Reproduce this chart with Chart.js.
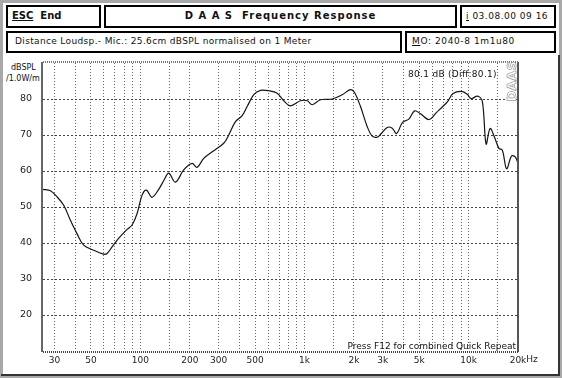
<!DOCTYPE html>
<html><head><meta charset="utf-8">
<script src="https://cdn.jsdelivr.net/npm/chart.js@4.4.1/dist/chart.umd.min.js"></script>
<style>
html,body{margin:0;padding:0;background:#fff;}
#page{position:relative;width:562px;height:378px;overflow:hidden;background:#fff;font-family:"DejaVu Sans",sans-serif;color:#111;}
.frame{position:absolute;left:0;top:0;width:562px;height:378px;box-sizing:border-box;border:3px solid #a8a8a8;}
.panel{position:absolute;left:1px;top:55px;width:559px;height:321px;box-sizing:border-box;border-right:2px solid #333;border-bottom:2px solid #333;}
.box{position:absolute;box-sizing:border-box;border:2px solid #000;background:#fff;}
.t{position:absolute;white-space:pre;line-height:1;}
.u{text-decoration:underline;}
canvas{position:absolute;left:0;top:0;}
.ov{z-index:2;}
</style></head><body><div id="page">
<div class="frame"></div>
<div class="panel"></div>
<div class="box" style="left:6px;top:5px;width:95px;height:23px;"></div>
<div class="box" style="left:104px;top:5px;width:353px;height:23px;"></div>
<div class="box" style="left:460px;top:5px;width:96px;height:23px;"></div>
<div class="box" style="left:6px;top:31px;width:396px;height:22px;"></div>
<div class="box" style="left:405px;top:31px;width:151px;height:22px;"></div>
<div class="t" style="left:12px;top:11px;font-size:10px;font-weight:bold;"><span class="u">ESC</span>  End</div>
<div class="t" style="left:104px;top:11px;width:353px;text-align:center;font-size:10px;font-weight:bold;letter-spacing:1px;">D A A S  Frequency Response</div>
<div class="t" style="left:466px;top:12px;font-size:9px;letter-spacing:0.5px;"><span class="u">i</span> 03.08.00 09 16</div>
<div class="t" style="left:15px;top:37px;font-size:9px;letter-spacing:0.35px;">Distance Loudsp.- Mic.: 25.6cm dBSPL normalised on 1 Meter</div>
<div class="t" style="left:412px;top:37px;font-size:9px;letter-spacing:0.6px;"><span class="u">M</span>O: 2040-8 1m1u80</div>
<div class="t" style="left:11px;top:64px;font-size:8px;">dBSPL</div>
<div class="t" style="left:6px;top:75px;font-size:8px;">/1.0W/m</div>
<canvas id="c" width="562" height="378"></canvas>
<div class="t ov" style="left:408px;top:70px;font-size:9px;letter-spacing:0.3px;">80.1 dB (Diff:80.1)</div>
<div class="t ov" style="left:491px;top:75px;width:40px;text-align:center;font-size:13px;font-weight:bold;color:#fff;-webkit-text-stroke:0.7px #999;transform:rotate(-90deg);transform-origin:50% 50%;">DAAS</div>
<div class="t ov" style="left:300px;top:342px;width:216px;text-align:right;font-size:9px;background:transparent;">Press F12 for combined Quick Repeat</div>
</div>
<script>
// measured curve: frequency (Hz) and level (dB SPL)
const freqHz = [25.5,28.3,31.1,34.1,37.4,41.1,45.1,51.9,59.7,62.7,67.2,73.7,83.0,89.0,95.5,102.4,108.8,117.8,129.3,138.7,148.8,163.5,183.7,206.7,221.6,243.2,279.9,322,345.5,379.6,417,447.3,490.9,539.3,605.8,681.6,747.9,821.5,945.4,1039,1114,1252,1475,1698,1908,2018,2195,2412,2587,2775,2906,3193,3425,3639,3959,4325,4686,5097,5728,6381,6991,7447,8045,9065,9819,10356,11347,12119,12784,13524,14408,15300,16055,17050,18290,19350,20000];
const splDb = [54.9,54.5,52.8,50.5,46.4,42.6,39.4,38.0,36.9,37.1,38.9,41.3,43.8,45.0,48.2,53.3,54.7,52.7,54.9,57.3,59.4,56.9,60.3,62.1,61.0,63.5,65.6,67.7,70.0,73.7,75.4,77.9,81.2,82.4,82.3,81.6,79.5,78.1,79.5,79.5,78.4,79.8,80.0,81.2,82.6,81.8,77.9,72.3,69.7,69.4,70.2,72.1,71.9,70.4,73.5,74.4,76.7,75.9,74.3,76.3,78.0,79.3,81.5,82.1,81.3,80.1,80.8,79.4,67.5,71.8,69.3,66.3,65.8,60.6,64.2,63.8,62.0];
const xGridHz = [30,40,50,60,70,80,90,100,150,200,300,400,500,600,700,800,900,1000,1500,2000,3000,4000,5000,6000,7000,8000,9000,10000,15000,20000];
const xLabelHz = [30,50,100,200,300,500,1000,2000,3000,5000,10000,20000];
const xLabelText = ['30','50','100','200','300','500','1k','2k','3k','5k','10k','20k'];
const yTicks = [20,30,40,50,60,70,80];
const yMin = 10, yMax = 90, xMin = 25.5, xMax = 20000;

const framePlugin = {
  id: 'frame',
  afterDraw(chart) {
    const {ctx, chartArea: a} = chart;
    ctx.save();
    ctx.lineWidth = 2;
    ctx.strokeStyle = '#666';
    ctx.beginPath(); ctx.moveTo(a.left - 1, a.top - 1); ctx.lineTo(a.left - 1, a.bottom + 1); ctx.stroke();
    ctx.strokeStyle = '#555';
    ctx.beginPath(); ctx.moveTo(a.right, a.top - 1); ctx.lineTo(a.right, a.bottom + 1); ctx.stroke();
    ctx.setLineDash([1, 1]);
    ctx.strokeStyle = '#777';
    ctx.beginPath(); ctx.moveTo(a.left, a.top - 1); ctx.lineTo(a.right, a.top - 1); ctx.stroke();
    ctx.strokeStyle = '#444';
    ctx.beginPath(); ctx.moveTo(a.left, a.bottom + 1); ctx.lineTo(a.right + 1, a.bottom + 1); ctx.stroke();
    ctx.setLineDash([]);
    const xs = chart.scales.x;
    const px = xs.getPixelForValue(20000);
    ctx.font = '9px "DejaVu Sans"';
    ctx.fillStyle = '#222';
    ctx.textBaseline = 'top';
    const w = ctx.measureText('20k').width;
    ctx.fillText('Hz', px + w / 2, a.bottom + 4);
    ctx.restore();
  }
};

new Chart(document.getElementById('c'), {
  type: 'line',
  data: {
    datasets: [{
      data: freqHz.map((f, i) => ({x: f, y: splDb[i]})),
      borderColor: '#151515', borderWidth: 1.2, pointRadius: 0, tension: 0.35, fill: false
    }]
  },
  options: {
    responsive: false, animation: false, devicePixelRatio: 1,
    layout: {padding: {top: 63, right: 44, bottom: 0, left: 0}},
    plugins: {legend: {display: false}, tooltip: {enabled: false}},
    scales: {
      x: {
        type: 'logarithmic', min: xMin, max: xMax,
        afterBuildTicks: s => { s.ticks = xGridHz.map(v => ({value: v})); },
        afterFit: s => { s.height = 27; },
        ticks: {
          autoSkip: false, maxRotation: 0, minRotation: 0, padding: 4, color: '#222',
          font: {family: 'DejaVu Sans', size: 9},
          callback: v => { const i = xLabelHz.indexOf(v); return i < 0 ? '' : xLabelText[i]; }
        },
        grid: {drawTicks: false, lineWidth: 1,
          color: c => (c.tick && c.tick.value === 20000) ? 'rgba(0,0,0,0)' : '#666'},
        border: {display: false, dash: [1, 2]}
      },
      y: {
        min: yMin, max: yMax,
        afterBuildTicks: s => { s.ticks = [yMin, ...yTicks, yMax].map(v => ({value: v})); },
        afterFit: s => { s.width = 43; },
        ticks: {
          padding: 11, color: '#222', font: {family: 'DejaVu Sans', size: 9.5},
          callback: v => yTicks.includes(v) ? String(v) : ''
        },
        grid: {drawTicks: false, lineWidth: 1,
          color: c => (c.tick && (c.tick.value === yMin || c.tick.value === yMax)) ? 'rgba(0,0,0,0)' : '#444'},
        border: {display: false, dash: [2, 2]}
      }
    }
  },
  plugins: [framePlugin]
});
</script>
</body></html>
